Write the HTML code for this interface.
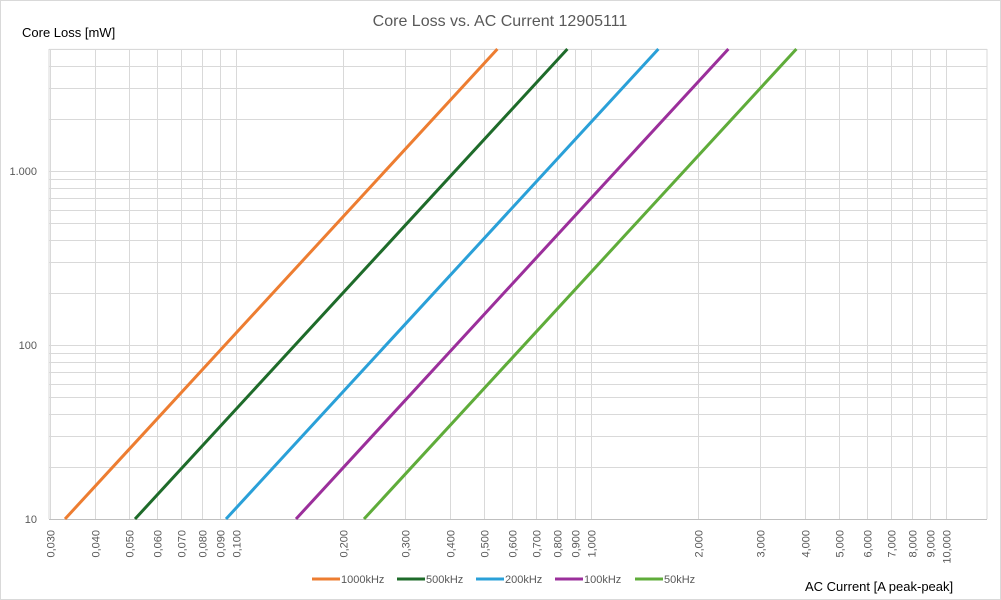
<!DOCTYPE html>
<html><head><meta charset="utf-8"><style>
body{margin:0;background:#fff}
svg{display:block;font-family:"Liberation Sans",sans-serif}
</style></head><body>
<svg width="1001" height="600" viewBox="0 0 1001 600" xmlns="http://www.w3.org/2000/svg">
<rect x="0.5" y="0.5" width="1000" height="599" fill="#fff" stroke="#d9d9d9"/>
<g stroke="#d9d9d9" stroke-width="1" id="grid"></g>
<text x="500" y="26" text-anchor="middle" font-size="16" fill="#595959">Core Loss vs. AC Current 12905111</text>
<text x="22" y="37" font-size="13" fill="#000">Core Loss [mW]</text>
<text x="805" y="591" font-size="13" fill="#000">AC Current [A peak-peak]</text>
<g font-size="11" fill="#595959" text-anchor="end">
<text x="37" y="523">10</text><text x="37" y="349">100</text><text x="37" y="175">1.000</text>
</g>
<g id="xl" font-size="11" fill="#595959"></g>
<g id="ser" stroke-width="3" fill="none" stroke-linecap="butt"></g>
<g font-size="11" fill="#595959">
<line x1="312" y1="579" x2="340" y2="579" stroke="#ED7D31" stroke-width="3"/><text x="341" y="583">1000kHz</text>
<line x1="397" y1="579" x2="425" y2="579" stroke="#1E6B2A" stroke-width="3"/><text x="426" y="583">500kHz</text>
<line x1="476" y1="579" x2="504" y2="579" stroke="#2AA0D8" stroke-width="3"/><text x="505" y="583">200kHz</text>
<line x1="555" y1="579" x2="583" y2="579" stroke="#9B2F9B" stroke-width="3"/><text x="584" y="583">100kHz</text>
<line x1="635" y1="579" x2="663" y2="579" stroke="#5FAC3A" stroke-width="3"/><text x="664" y="583">50kHz</text>
</g>
</svg>
<script>
const ns="http://www.w3.org/2000/svg";
const X=v=>591+355*Math.log10(v), Y=v=>171-174*(Math.log10(v)-3);
const L=49,R=987,T=49,B=519;
const g=document.getElementById('grid');
function ln(p,a,b,c,d,col,w){const e=document.createElementNS(ns,'line');e.setAttribute('x1',a);e.setAttribute('y1',b);e.setAttribute('x2',c);e.setAttribute('y2',d);if(col)e.setAttribute('stroke',col);if(w)e.setAttribute('stroke-width',w);p.appendChild(e);}
for(let d=10;d<=1000;d*=10)for(let k=1;k<10;k++){const v=d*k;if(v>5000)break;const y=Math.round(Y(v))+0.5;ln(g,L,y,R,y);}
ln(g,L,Y(5000),R,Y(5000));
const xs=[];
for(let k=3;k<=9;k++)xs.push([k/100,'0,0'+k+'0']);
for(let k=1;k<=9;k++)xs.push([k/10,k==1?'0,100':'0,'+k+'00']);
for(let k=1;k<=10;k++)xs.push([k,k+',000']);
const xl=document.getElementById('xl');
xs.forEach(([v,t])=>{const x=Math.round(X(v))+0.5;ln(g,x,T,x,B);
const e=document.createElementNS(ns,'text');e.setAttribute('transform',`translate(${x+4},530) rotate(-90)`);e.setAttribute('text-anchor','end');e.textContent=t;xl.appendChild(e);});
ln(g,L,T,L,B);ln(g,R,T,R,B);
ln(g,L,B+0.5,R,B+0.5,'#bfbfbf');
const s=document.getElementById('ser');
[[65,'#ED7D31'],[135,'#1E6B2A'],[226,'#2AA0D8'],[296,'#9B2F9B'],[364,'#5FAC3A']].forEach(([x0,c])=>{ln(s,x0,B,x0+(B-T)/1.087,T,c);});
</script>
</body></html>
